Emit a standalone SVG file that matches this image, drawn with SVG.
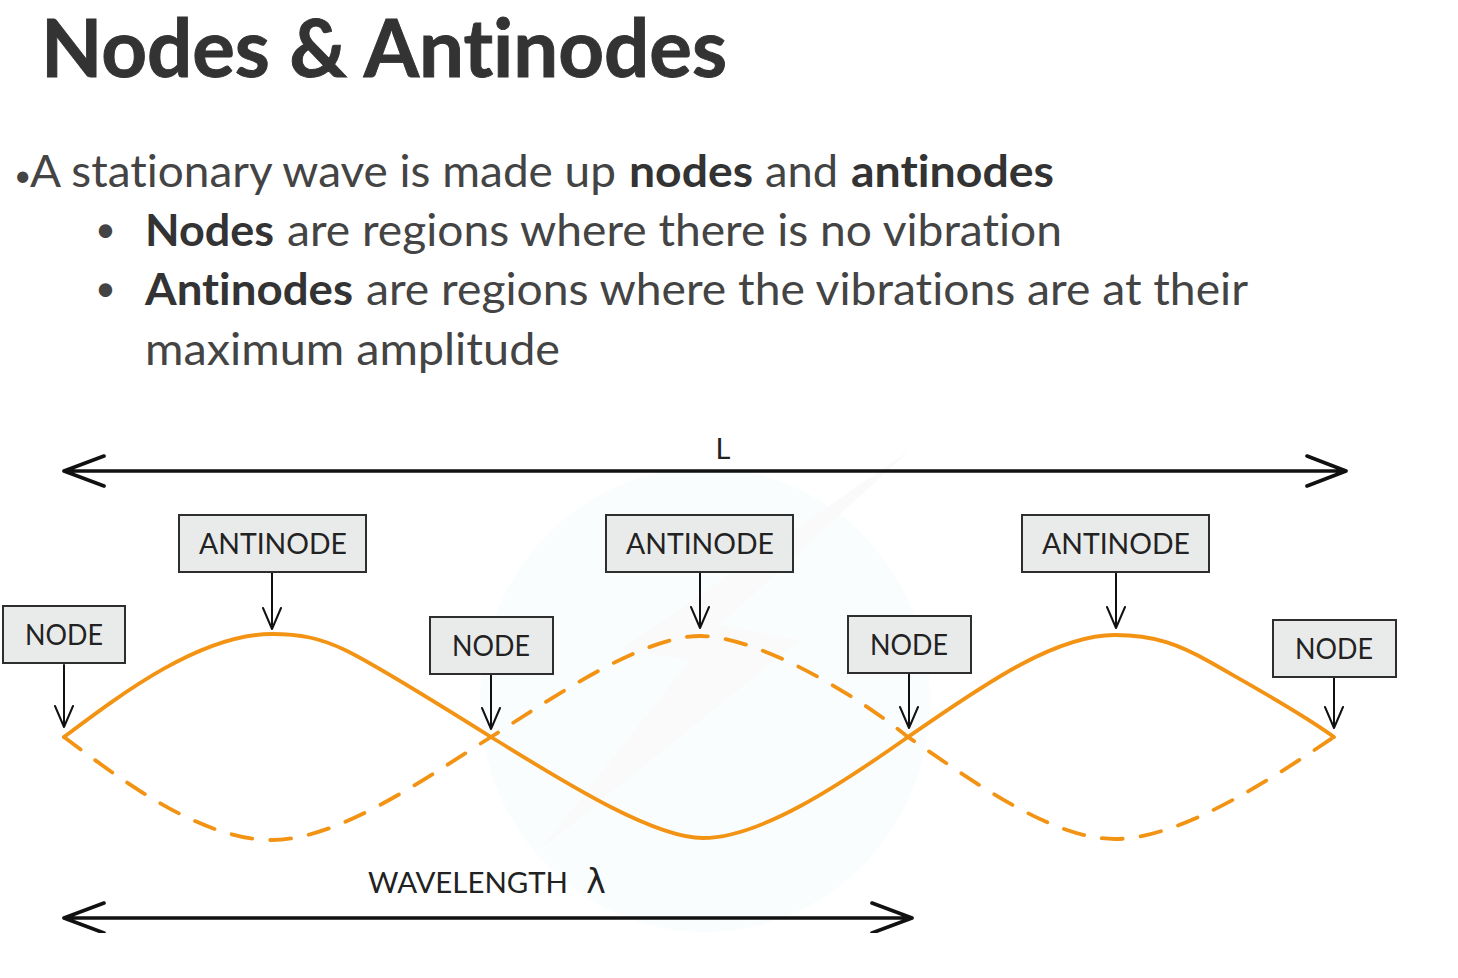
<svg xmlns="http://www.w3.org/2000/svg" width="1458" height="978" viewBox="0 0 1458 978">
<style>
text{font-variant-ligatures:none}
.h{font-family:"Lato","Noto Sans",sans-serif;fill:#333;font-weight:700;stroke:#333;stroke-width:.9}
.b{font-family:"Lato","Noto Sans",sans-serif;font-size:44px;fill:#444}
.bu{font-family:"Lato","Noto Sans",sans-serif;fill:#444}
.s{font-weight:700;fill:#333}
.box{fill:#e9ebea;stroke:#2e2e2e;stroke-width:2}
.lab{font-family:"Lato","Liberation Sans",sans-serif;font-size:29px;fill:#222;text-anchor:middle}
.w{fill:none;stroke:#f39314;stroke-width:3.8;stroke-linecap:round}
.d{stroke-dasharray:21 18}
.a{fill:none;stroke:#111;stroke-width:2;stroke-linecap:round;stroke-linejoin:round}
.t{fill:none;stroke:#111;stroke-width:3.6;stroke-linecap:round;stroke-linejoin:round}
</style>
<defs><clipPath id="c"><rect x="0" y="400" width="1458" height="533"/></clipPath></defs>
<rect width="1458" height="978" fill="#fff"/>
<g id="watermark">
<ellipse cx="705" cy="700" rx="225" ry="232" fill="#f9fdfe"/>
<path d="M910 450L620 650 690 660 540 850 800 640 720 625Z" fill="#fafafa"/>
</g>
<text class="h" x="41" y="77" font-size="80" textLength="686" lengthAdjust="spacingAndGlyphs">Nodes &amp; Antinodes</text>
<text class="bu" x="14" y="186" font-size="30">•</text>
<text class="b" x="30" y="187"><tspan textLength="586" lengthAdjust="spacingAndGlyphs">A stationary wave is made up</tspan><tspan class="s" x="629" textLength="124" lengthAdjust="spacingAndGlyphs">nodes</tspan><tspan x="765" textLength="73" lengthAdjust="spacingAndGlyphs">and</tspan><tspan class="s" x="851" textLength="203" lengthAdjust="spacingAndGlyphs">antinodes</tspan></text>
<text class="bu" x="95" y="242" font-size="36">•</text>
<text class="b" x="145" y="246"><tspan class="s" textLength="129" lengthAdjust="spacingAndGlyphs">Nodes</tspan><tspan x="287" textLength="775" lengthAdjust="spacingAndGlyphs">are regions where there is no vibration</tspan></text>
<text class="bu" x="95" y="301" font-size="36">•</text>
<text class="b" x="145" y="305"><tspan class="s" textLength="208" lengthAdjust="spacingAndGlyphs">Antinodes</tspan><tspan x="366" textLength="882" lengthAdjust="spacingAndGlyphs">are regions where the vibrations are at their</tspan></text>
<text class="b" x="145" y="365" textLength="415" lengthAdjust="spacingAndGlyphs">maximum amplitude</text>
<g id="connectors">
<g clip-path="url(#c)">
<path class="t" d="M64 471H1346M104 456L64 471 104 486M1307 456L1346 471 1307 486"/>
<path class="t" d="M64 918H912M104 903L64 918 104 933M872 903L912 918 872 933"/>
</g>
<path class="a" d="M64 665V727M55 706L64 727 73 706M272 572V629M263 608L272 629 281 608M491 675V729M482 708L491 729 500 708M700 572V628M691 607L700 628 709 607M909 673V728M900 707L909 728 918 707M1116 572V628M1107 607L1116 628 1125 607M1334 677V728M1325 707L1334 728 1343 707"/>
<path class="w" d="M64 737C120 695 200 634 272 634C300 634 320 638 345 650C370 662 440 705 491 737C550 773 650 838 703 838C760 838 840 785 908 737C970 695 1050 635 1115 635C1155 635 1180 645 1210 662C1250 685 1300 712 1334 737"/>
<path class="w d" d="M64 737C120 779 200 840 272 840C340 840 430 775 491 737C545 703 640 636 700 636C755 636 850 690 908 737C970 779 1050 839 1115 839C1180 839 1270 780 1334 737"/>
</g>
<g id="n1"><rect class="box" x="3" y="606" width="122" height="57"/><text class="lab" x="64" y="645" textLength="78" lengthAdjust="spacingAndGlyphs">NODE</text></g>
<g id="a1"><rect class="box" x="179" y="515" width="187" height="57"/><text class="lab" x="273" y="554" textLength="148" lengthAdjust="spacingAndGlyphs">ANTINODE</text></g>
<g id="n2"><rect class="box" x="430" y="617" width="123" height="57"/><text class="lab" x="491" y="656" textLength="78" lengthAdjust="spacingAndGlyphs">NODE</text></g>
<g id="a2"><rect class="box" x="606" y="515" width="187" height="57"/><text class="lab" x="700" y="554" textLength="148" lengthAdjust="spacingAndGlyphs">ANTINODE</text></g>
<g id="n3"><rect class="box" x="848" y="616" width="123" height="57"/><text class="lab" x="909" y="655" textLength="78" lengthAdjust="spacingAndGlyphs">NODE</text></g>
<g id="a3"><rect class="box" x="1022" y="515" width="187" height="57"/><text class="lab" x="1116" y="554" textLength="148" lengthAdjust="spacingAndGlyphs">ANTINODE</text></g>
<g id="n4"><rect class="box" x="1273" y="620" width="123" height="57"/><text class="lab" x="1334" y="659" textLength="78" lengthAdjust="spacingAndGlyphs">NODE</text></g>
<text class="lab" x="723" y="459">L</text>
<text class="lab" x="468" y="893" textLength="200" lengthAdjust="spacingAndGlyphs">WAVELENGTH</text>
<text class="lab" x="596" y="893" style="font-family:'DejaVu Sans',sans-serif;font-size:33px">λ</text>
</svg>
